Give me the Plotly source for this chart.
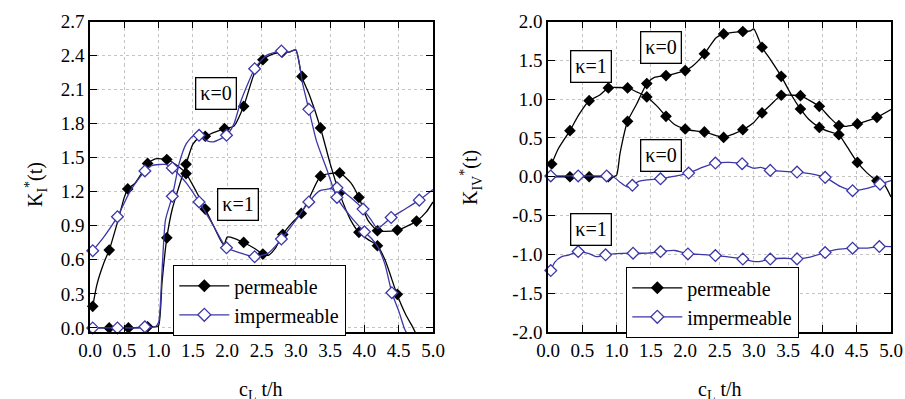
import plotly.graph_objects as go

# ---------------- data: left panel (K_I*) ----------------
lp1_x = [0.04, 0.1, 0.2, 0.28, 0.4, 0.5, 0.55, 0.65, 0.75, 0.84, 0.95, 1.05, 1.12, 1.25, 1.40, 1.55, 1.68, 1.8, 1.95, 2.0,
         2.1, 2.24, 2.4, 2.52, 2.6, 2.7, 2.81, 2.95, 3.08, 3.2, 3.36, 3.5, 3.64, 3.8, 3.92, 4.05, 4.19, 4.3, 4.48, 4.6,
         4.76, 4.9, 5.0]
lp1_y = [0.19, 0.38, 0.57, 0.686, 0.93, 1.15, 1.225, 1.27, 1.36, 1.449, 1.49, 1.49, 1.484, 1.44, 1.36, 1.2, 1.047, 0.9,
         0.73, 0.80, 0.79, 0.753, 0.70, 0.651, 0.64, 0.70, 0.824, 0.93, 1.009, 1.15, 1.337, 1.36, 1.366, 1.28, 1.15,
         0.95, 0.856, 0.85, 0.862, 0.89, 0.941, 1.02, 1.11]
lp1_mx = [0.04, 0.28, 0.55, 0.84, 1.12, 1.40, 1.68, 2.24, 2.52, 2.81, 3.08, 3.36, 3.64, 3.92, 4.19, 4.48, 4.76]
lp1_my = [0.19, 0.686, 1.225, 1.449, 1.484, 1.36, 1.047, 0.753, 0.651, 0.824, 1.009, 1.337, 1.366, 1.15, 0.856, 0.862,
          0.941]

lp0_x = [0.04, 0.28, 0.56, 0.84, 0.95, 1.0, 1.05, 1.12, 1.2, 1.3, 1.40, 1.5, 1.58, 1.68, 1.8, 1.96, 2.1, 2.24, 2.4,
         2.52, 2.65, 2.80, 2.9, 3.0, 3.086, 3.2, 3.36, 3.5, 3.635, 3.8, 3.92, 4.05, 4.19, 4.3, 4.475, 4.6, 4.71, 4.75]
lp0_y = [0, 0, 0, 0.01, 0.01, 0.02, 0.4, 0.794, 1.05, 1.25, 1.442, 1.62, 1.67, 1.689, 1.72, 1.756, 1.78, 1.953, 2.25,
         2.363, 2.41, 2.43, 2.43, 2.45, 2.216, 2.05, 1.762, 1.45, 1.19, 0.95, 0.842, 0.78, 0.724, 0.6, 0.296, 0.12, 0,
         -0.05]
lp0_mx = [0.28, 0.56, 0.84, 1.12, 1.40, 1.68, 1.96, 2.24, 2.52, 2.80, 3.09, 3.36, 3.64, 3.92, 4.19, 4.48]
lp0_my = [0, 0, 0.01, 0.794, 1.442, 1.689, 1.756, 1.953, 2.363, 2.43, 2.216, 1.762, 1.19, 0.842, 0.724, 0.296]

li1_x = [0.04, 0.2, 0.4, 0.6, 0.80, 0.9, 1.0, 1.1, 1.20, 1.4, 1.59, 1.8, 1.99, 2.2, 2.40, 2.6, 2.79, 3.0, 3.19, 3.35,
         3.45, 3.60, 3.8, 3.98, 4.1, 4.19, 4.39, 4.6, 4.80, 5.0]
li1_y = [0.68, 0.80, 0.98, 1.22, 1.383, 1.43, 1.44, 1.44, 1.41, 1.28, 1.11, 0.90, 0.706, 0.66, 0.627, 0.66, 0.783,
         0.95, 1.11, 1.21, 1.22, 1.234, 1.15, 1.047, 0.95, 0.877, 0.973, 1.05, 1.126, 1.22]
li1_mx = [0.04, 0.40, 0.80, 1.20, 1.59, 1.99, 2.40, 2.79, 3.19, 3.60, 3.98, 4.39, 4.80]
li1_my = [0.68, 0.98, 1.383, 1.41, 1.11, 0.706, 0.627, 0.783, 1.11, 1.234, 1.047, 0.973, 1.126]

li0_x = [0.04, 0.40, 0.80, 0.95, 1.0, 1.05, 1.1, 1.20, 1.3, 1.4, 1.5, 1.59, 1.7, 1.8, 1.99, 2.1, 2.2, 2.40, 2.5, 2.6,
         2.79, 2.9, 3.0, 3.1, 3.19, 3.3, 3.45, 3.60, 3.8, 4.0, 4.1, 4.19, 4.3, 4.40, 4.5, 4.58, 4.62]
li0_y = [0, 0, 0, 0.01, 0.05, 0.5, 0.95, 1.16, 1.45, 1.62, 1.69, 1.697, 1.65, 1.64, 1.697, 1.80, 2.0, 2.284, 2.36,
         2.41, 2.44, 2.43, 2.45, 2.15, 1.926, 1.65, 1.40, 1.15, 0.98, 0.847, 0.79, 0.72, 0.56, 0.31, 0.15, 0, -0.05]
li0_mx = [0.04, 0.40, 0.80, 1.20, 1.59, 1.99, 2.40, 2.79, 3.19, 3.60, 4.00, 4.40]
li0_my = [0, 0, 0.01, 1.16, 1.697, 1.697, 2.284, 2.44, 1.926, 1.15, 0.847, 0.31]

# ---------------- data: right panel (K_IV*) ----------------
rp1_x = [0.054, 0.15, 0.32, 0.45, 0.60, 0.75, 0.88, 1.0, 1.16, 1.3, 1.44, 1.6, 1.72, 1.85, 2.0, 2.15, 2.28, 2.45, 2.56,
         2.7, 2.84, 3.0, 3.12, 3.25, 3.40, 3.55, 3.68, 3.8, 3.955, 4.1, 4.24, 4.35, 4.51, 4.65, 4.795, 5.0]
rp1_y = [0.164, 0.36, 0.594, 0.80, 0.98, 1.05, 1.144, 1.15, 1.144, 1.09, 1.028, 0.9, 0.778, 0.67, 0.615, 0.59, 0.577,
         0.53, 0.507, 0.55, 0.606, 0.70, 0.822, 0.93, 1.05, 1.05, 1.045, 0.99, 0.907, 0.77, 0.658, 0.65, 0.68, 0.72,
         0.765, 0.865]
rp1_mx = [0.054, 0.32, 0.60, 0.88, 1.16, 1.44, 1.72, 2.0, 2.28, 2.56, 2.84, 3.12, 3.40, 3.68, 3.955, 4.24, 4.51, 4.795]
rp1_my = [0.164, 0.594, 0.98, 1.144, 1.144, 1.028, 0.778, 0.615, 0.577, 0.507, 0.606, 0.822, 1.05, 1.045, 0.907, 0.658,
          0.68, 0.765]

rp0_x = [0.054, 0.32, 0.60, 0.88, 0.95, 1.0, 1.05, 1.16, 1.3, 1.44, 1.55, 1.72, 1.85, 2.0, 2.1, 2.28, 2.45, 2.56, 2.7,
         2.84, 2.95, 3.0, 3.12, 3.25, 3.40, 3.55, 3.68, 3.8, 3.955, 4.1, 4.24, 4.35, 4.51, 4.65, 4.795, 4.9, 5.0]
rp0_y = [0, 0, 0, 0, 0.0, 0.02, 0.3, 0.714, 0.95, 1.20, 1.28, 1.303, 1.33, 1.368, 1.42, 1.583, 1.79, 1.84, 1.86, 1.871,
         1.88, 1.905, 1.668, 1.50, 1.294, 1.05, 0.873, 0.74, 0.636, 0.58, 0.542, 0.40, 0.185, 0.05, -0.052, -0.1, -0.26]
rp0_mx = [0.32, 0.60, 0.88, 1.16, 1.44, 1.72, 2.0, 2.28, 2.56, 2.84, 3.12, 3.40, 3.68, 3.955, 4.24, 4.51, 4.795]
rp0_my = [0, 0, 0, 0.714, 1.20, 1.303, 1.368, 1.583, 1.84, 1.871, 1.668, 1.294, 0.873, 0.636, 0.542, 0.185, -0.052]

ri0_x = [0.04, 0.44, 0.855, 0.95, 1.05, 1.15, 1.23, 1.32, 1.44, 1.64, 1.83, 2.05, 2.26, 2.44, 2.65, 2.83, 3.0, 3.1,
         3.24, 3.43, 3.63, 3.82, 4.04, 4.26, 4.44, 4.65, 4.84, 5.0]
ri0_y = [0.01, 0.01, 0.01, 0.0, -0.07, -0.13, -0.11, -0.06, -0.04, -0.026, 0.004, 0.047, 0.125, 0.176, 0.185, 0.168,
         0.11, 0.12, 0.082, 0.07, 0.06, 0.04, -0.008, -0.125, -0.18, -0.15, -0.095, -0.05]
ri0_mx = [0.04, 0.44, 0.855, 1.23, 1.64, 2.05, 2.44, 2.83, 3.24, 3.63, 4.04, 4.44, 4.84]
ri0_my = [0.01, 0.01, 0.01, -0.11, -0.026, 0.047, 0.176, 0.168, 0.082, 0.06, -0.008, -0.18, -0.095]

ri1_x = [0.04, 0.1, 0.2, 0.3, 0.44, 0.6, 0.7, 0.84, 1.0, 1.24, 1.44, 1.64, 1.85, 2.04, 2.2, 2.44, 2.6, 2.84, 3.0, 3.1,
         3.24, 3.45, 3.63, 3.8, 4.04, 4.2, 4.44, 4.65, 4.83, 5.0]
ri1_y = [-1.209, -1.10, -1.03, -1.01, -0.964, -0.99, -1.03, -1.006, -0.99, -0.985, -0.985, -0.964, -0.95, -0.994,
         -1.0, -1.015, -1.03, -1.06, -1.09, -1.09, -1.06, -1.05, -1.058, -1.04, -0.977, -0.94, -0.92, -0.92, -0.899,
         -0.9]
ri1_mx = [0.04, 0.44, 0.84, 1.24, 1.64, 2.04, 2.44, 2.84, 3.24, 3.63, 4.04, 4.44, 4.83]
ri1_my = [-1.209, -0.964, -1.006, -0.985, -0.964, -0.994, -1.015, -1.06, -1.06, -1.058, -0.977, -0.92, -0.899]

x_ticks = [0.0, 0.5, 1.0, 1.5, 2.0, 2.5, 3.0, 3.5, 4.0, 4.5, 5.0]
x_ticktext = ["0.0", "0.5", "1.0", "1.5", "2.0", "2.5", "3.0", "3.5", "4.0", "4.5", "5.0"]
yl_ticks = [0.0, 0.3, 0.6, 0.9, 1.2, 1.5, 1.8, 2.1, 2.4, 2.7]
yl_ticktext = ["0.0", "0.3", "0.6", "0.9", "1.2", "1.5", "1.8", "2.1", "2.4", "2.7"]
yr_ticks = [-2.0, -1.5, -1.0, -0.5, 0.0, 0.5, 1.0, 1.5, 2.0]
yr_ticktext = ["-2.0", "-1.5", "-1.0", "-0.5", "0.0", "0.5", "1.0", "1.5", "2.0"]

legend_names = ["permeable", "impermeable"]

# ---------------- styling ----------------
W, H = 905, 399
FONT = "Times New Roman, Liberation Serif, DejaVu Serif, serif"
BLACK = "#000000"
BLUE = "#3c37a8"

def px_x(p):
    return p / W

def px_y(p):
    return 1 - p / H

fig = go.Figure()

def add_curve(lx, ly, mx, my, xa, ya, color, filled):
    fig.add_trace(go.Scatter(x=lx, y=ly, mode="lines", xaxis=xa, yaxis=ya,
                             line=dict(color=color, width=1.3, shape="spline", smoothing=0.6),
                             showlegend=False, hoverinfo="skip", cliponaxis=True))
    fig.add_trace(go.Scatter(x=mx, y=my, mode="markers", xaxis=xa, yaxis=ya,
                             marker=dict(symbol="diamond", size=9,
                                         color=color if filled else "white",
                                         line=dict(color=color, width=1.3 if not filled else 0)),
                             showlegend=False, cliponaxis=False))

# left panel
add_curve(lp1_x, lp1_y, lp1_mx, lp1_my, "x", "y", BLACK, True)
add_curve(lp0_x, lp0_y, lp0_mx, lp0_my, "x", "y", BLACK, True)
add_curve(li1_x, li1_y, li1_mx, li1_my, "x", "y", BLUE, False)
add_curve(li0_x, li0_y, li0_mx, li0_my, "x", "y", BLUE, False)
# right panel
add_curve(rp1_x, rp1_y, rp1_mx, rp1_my, "x2", "y2", BLACK, True)
add_curve(rp0_x, rp0_y, rp0_mx, rp0_my, "x2", "y2", BLACK, True)
add_curve(ri0_x, ri0_y, ri0_mx, ri0_my, "x2", "y2", BLUE, False)
add_curve(ri1_x, ri1_y, ri1_mx, ri1_my, "x2", "y2", BLUE, False)

# legend entries
for leg, xa, ya in (("legend", "x", "y"), ("legend2", "x2", "y2")):
    fig.add_trace(go.Scatter(x=[None], y=[None], mode="lines+markers", name=legend_names[0], legend=leg,
                             xaxis=xa, yaxis=ya,
                             line=dict(color=BLACK, width=1.3),
                             marker=dict(symbol="diamond", size=10, color=BLACK)))
    fig.add_trace(go.Scatter(x=[None], y=[None], mode="lines+markers", name=legend_names[1], legend=leg,
                             xaxis=xa, yaxis=ya,
                             line=dict(color=BLUE, width=1.3),
                             marker=dict(symbol="diamond", size=10, color="white",
                                         line=dict(color=BLUE, width=1.3))))

axis_common = dict(showline=True, linecolor="black", linewidth=1.5, mirror="ticks",
                   ticks="inside", ticklen=7, tickwidth=1.3, tickcolor="black",
                   showgrid=True, gridcolor="#c4c4c4", gridwidth=1, griddash="dot",
                   zeroline=False, automargin=False,
                   tickfont=dict(family=FONT, size=19, color="black"))

ydom = [px_y(332), px_y(21.5)]
fig.update_layout(
    width=W, height=H, margin=dict(l=0, r=0, t=0, b=0, autoexpand=False),
    plot_bgcolor="white", paper_bgcolor="white",
    font=dict(family=FONT, size=19, color="black"),
    xaxis=dict(domain=[px_x(90), px_x(433)], range=[0, 5], tickvals=x_ticks, ticktext=x_ticktext,
               anchor="y", **axis_common),
    yaxis=dict(domain=ydom, range=[-0.036, 2.7], tickvals=yl_ticks, ticktext=yl_ticktext,
               anchor="x", **axis_common),
    xaxis2=dict(domain=[px_x(548), px_x(891)], range=[0, 5], tickvals=x_ticks, ticktext=x_ticktext,
                anchor="y2", **axis_common),
    yaxis2=dict(domain=ydom, range=[-2.0, 2.0], tickvals=yr_ticks, ticktext=yr_ticktext,
                anchor="x2", **axis_common),
    legend=dict(x=px_x(173), y=px_y(265), xanchor="left", yanchor="top",
                bgcolor="white", bordercolor="black", borderwidth=1.3,
                font=dict(family=FONT, size=20), tracegroupgap=0, itemwidth=50),
    legend2=dict(x=px_x(626), y=px_y(267), xanchor="left", yanchor="top",
                 bgcolor="white", bordercolor="black", borderwidth=1.3,
                 font=dict(family=FONT, size=20), tracegroupgap=0, itemwidth=50),
    showlegend=True,
)

def kbox(text, x, y, xref, yref):
    fig.add_annotation(text=text, x=x, y=y, xref=xref, yref=yref, showarrow=False,
                       font=dict(family=FONT, size=20, color="black"),
                       bgcolor="white", bordercolor="black", borderwidth=1.3, borderpad=4)

kbox("κ=0", 1.84, 2.07, "x", "y")
kbox("κ=1", 2.16, 1.09, "x", "y")
kbox("κ=1", 0.634, 1.426, "x2", "y2")
kbox("κ=0", 1.65, 1.66, "x2", "y2")
kbox("κ=0", 1.65, 0.27, "x2", "y2")
kbox("κ=1", 0.634, -0.677, "x2", "y2")

# axis titles
fig.add_annotation(text="K<sub>I</sub><sup>*</sup>(t)", x=px_x(20), y=px_y(185), xref="paper", yref="paper",
                   textangle=-90, showarrow=False, font=dict(family=FONT, size=20))
fig.add_annotation(text="K<sub>IV</sub><sup>*</sup>(t)", x=px_x(471), y=px_y(178), xref="paper", yref="paper",
                   textangle=-90, showarrow=False, font=dict(family=FONT, size=20))
fig.add_annotation(text="c<sub>L</sub> t/h", x=px_x(261), y=px_y(376), xref="paper", yref="paper",
                   xanchor="center", yanchor="top", showarrow=False, font=dict(family=FONT, size=20))
fig.add_annotation(text="c<sub>L</sub> t/h", x=px_x(720), y=px_y(376), xref="paper", yref="paper",
                   xanchor="center", yanchor="top", showarrow=False, font=dict(family=FONT, size=20))

fig.write_html("out.html")
